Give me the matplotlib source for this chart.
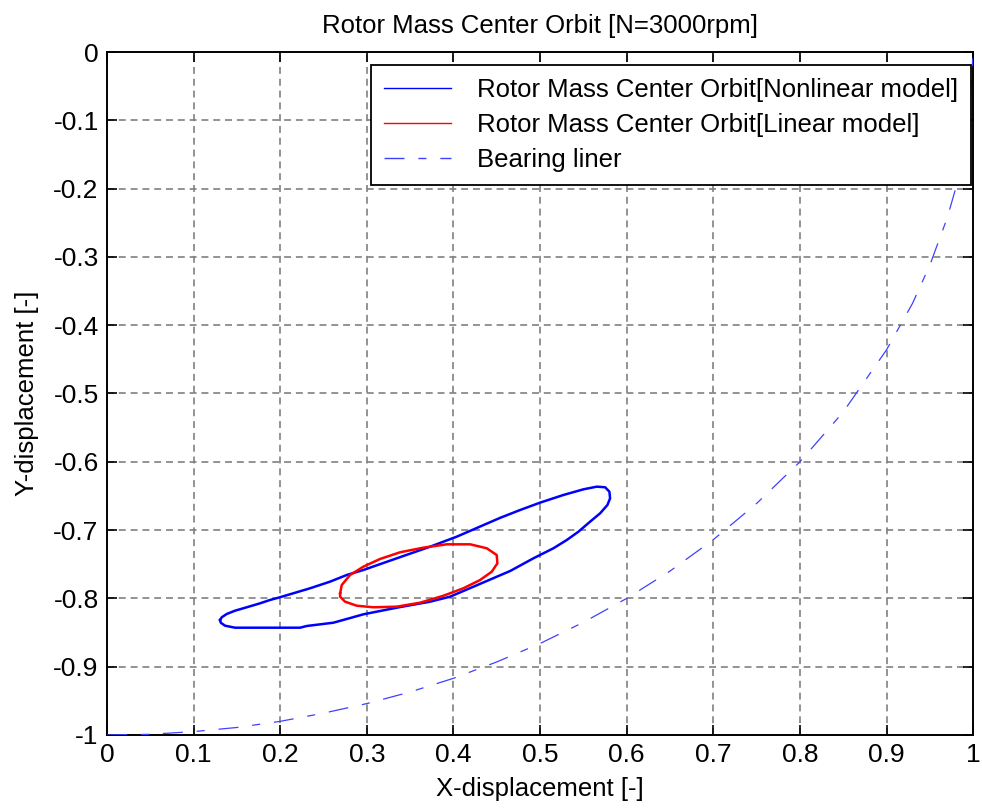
import matplotlib
matplotlib.use("Agg")
import matplotlib.pyplot as plt
from matplotlib.ticker import FixedLocator

plt.rcParams['font.family'] = ['Liberation Sans', 'DejaVu Sans']
plt.rcParams['lines.scale_dashes'] = False

# Nonlinear model orbit (closed loop)
nl_x = [0.1305, 0.1324, 0.1382, 0.1478, 0.1613, 0.1767, 0.1882, 0.1978, 0.2151, 0.2344,
        0.2575, 0.2768, 0.2960, 0.3345, 0.3730, 0.4038, 0.4540, 0.4769, 0.5000, 0.5269,
        0.5500, 0.5655, 0.5751, 0.5800, 0.5808, 0.5777, 0.5693, 0.5577, 0.5443, 0.5308,
        0.5154, 0.4923, 0.4654, 0.4230, 0.3960, 0.3730, 0.3345, 0.2960, 0.2786, 0.2613,
        0.2306, 0.2229, 0.1478, 0.1363, 0.1313, 0.1305]
nl_y = [-0.8316, -0.8277, -0.8228, -0.8180, -0.8130, -0.8072, -0.8023, -0.7990, -0.7925, -0.7852,
        -0.7755, -0.7657, -0.7584, -0.7413, -0.7243, -0.7096, -0.6820, -0.6706, -0.6598, -0.6486,
        -0.6403, -0.6364, -0.6373, -0.6437, -0.6535, -0.6633, -0.6754, -0.6877, -0.7023, -0.7145,
        -0.7266, -0.7413, -0.7599, -0.7829, -0.7975, -0.8048, -0.8136, -0.8233, -0.8295, -0.8356,
        -0.8404, -0.8429, -0.8429, -0.8400, -0.8356, -0.8316]

# Linear model orbit (closed loop)
li_x = [0.2691, 0.2710, 0.2806, 0.2960, 0.3152, 0.3383, 0.3652, 0.3922, 0.4192, 0.4384,
        0.4499, 0.4507, 0.4442, 0.4307, 0.4114, 0.3884, 0.3614, 0.3345, 0.3075, 0.2883,
        0.2748, 0.2691, 0.2691]
li_y = [-0.7926, -0.7804, -0.7657, -0.7535, -0.7423, -0.7325, -0.7257, -0.7208, -0.7208, -0.7266,
        -0.7365, -0.7486, -0.7609, -0.7731, -0.7852, -0.7961, -0.8063, -0.8121, -0.8130, -0.8107,
        -0.8048, -0.7975, -0.7926]

# Bearing liner (quarter arc)
bl_x = [0.0, 0.05, 0.1, 0.15, 0.2, 0.25, 0.3, 0.35, 0.4, 0.45, 0.5, 0.55, 0.6,
        0.65, 0.7, 0.75, 0.8, 0.85, 0.9, 0.93, 0.95, 0.97, 0.98, 0.99, 0.995, 1.0]
bl_y = [-1.0, -0.999, -0.995, -0.989, -0.980, -0.968, -0.954, -0.937, -0.917, -0.893,
        -0.866, -0.835, -0.800, -0.760, -0.714, -0.661, -0.600, -0.527, -0.436, -0.368,
        -0.312, -0.243, -0.199, -0.141, -0.100, 0.0]

x_ticks = [0, 0.1, 0.2, 0.3, 0.4, 0.5, 0.6, 0.7, 0.8, 0.9, 1]
x_tick_labels = ['0', '0.1', '0.2', '0.3', '0.4', '0.5', '0.6', '0.7', '0.8', '0.9', '1']
y_ticks = [-1, -0.9, -0.8, -0.7, -0.6, -0.5, -0.4, -0.3, -0.2, -0.1, 0]
y_tick_labels = ['-1', '-0.9', '-0.8', '-0.7', '-0.6', '-0.5', '-0.4', '-0.3', '-0.2', '-0.1', '0']

labels = ['Rotor Mass Center Orbit[Nonlinear model]',
          'Rotor Mass Center Orbit[Linear model]',
          'Bearing liner']

FS = 18.5

fig = plt.figure(figsize=(9.82, 8.10), dpi=100)
ax = fig.add_axes([0.109, 0.0926, 0.882, 0.8432])

ax.plot(nl_x, nl_y, color='#0000ff', lw=1.8, label=labels[0], zorder=3)
ax.plot(li_x, li_y, color='#ff0000', lw=1.8, label=labels[1], zorder=4)
ax.plot(bl_x, bl_y, color='#4040ff', lw=0.9, linestyle=(0, (14.4, 10, 5.8, 10)),
        label=labels[2], zorder=3)

ax.set_xlim(0, 1)
ax.set_ylim(-1, 0)
ax.xaxis.set_major_locator(FixedLocator(x_ticks))
ax.yaxis.set_major_locator(FixedLocator(y_ticks))
ax.set_xticklabels(x_tick_labels)
ax.set_yticklabels(y_tick_labels)
ax.tick_params(direction='in', length=7, width=1.2, top=True, right=True,
               labelsize=19, pad=6)
ax.grid(True, color='#808080', linestyle=(0, (5, 3.5)), lw=1.2)
for s in ax.spines.values():
    s.set_linewidth(1.4)
    s.set_color('black')

ax.set_title('Rotor Mass Center Orbit [N=3000rpm]', fontsize=FS, pad=14)
ax.set_xlabel('X-displacement [-]', fontsize=FS, labelpad=7)
ax.set_ylabel('Y-displacement [-]', fontsize=FS, labelpad=10)

leg = ax.legend(loc='upper right', fontsize=FS, fancybox=False, framealpha=1,
                edgecolor='black', borderaxespad=0.0, bbox_to_anchor=(0.997, 0.981),
                handlelength=2.6, handletextpad=1.0, labelspacing=0.44,
                borderpad=0.5)
leg.get_frame().set_linewidth(1.3)
for ln in leg.get_lines():
    ln.set_linewidth(1.0)

fig.savefig('out.png', dpi=100)
